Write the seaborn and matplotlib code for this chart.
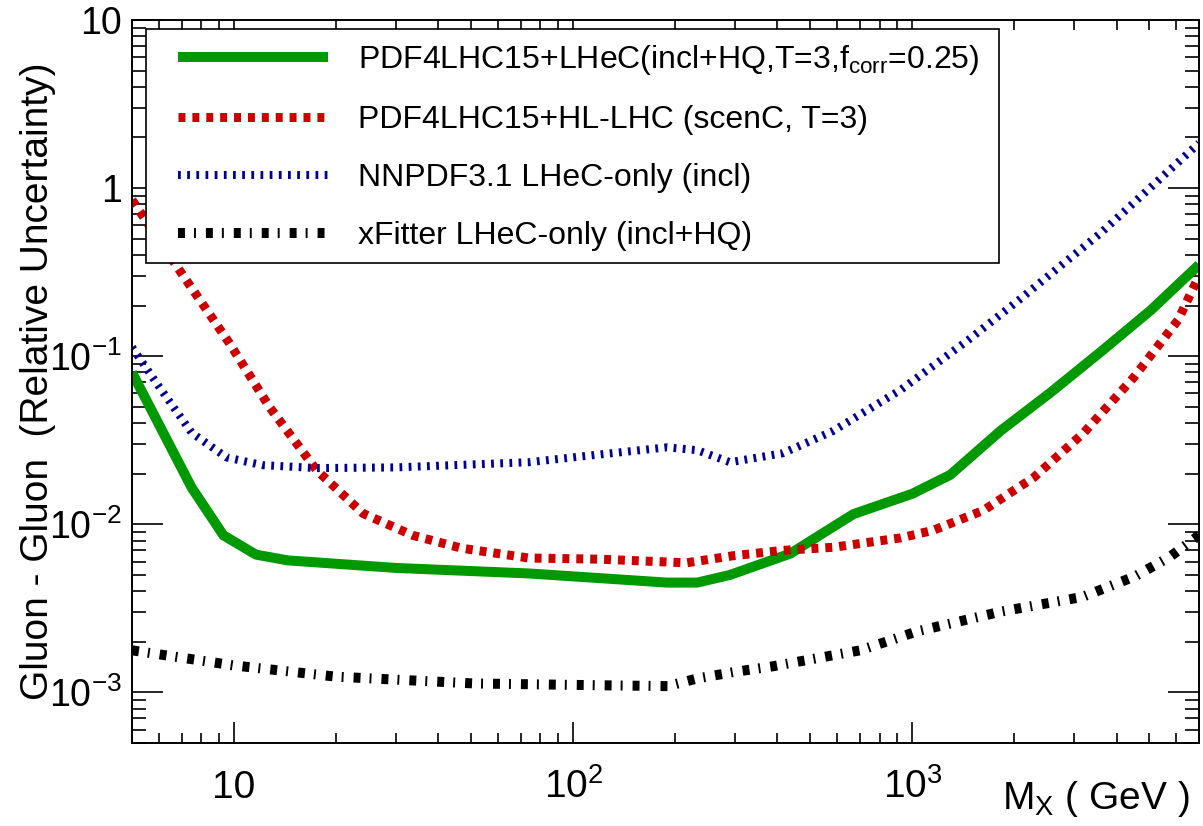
import numpy as np
import matplotlib
matplotlib.use("Agg")
import matplotlib.pyplot as plt
import seaborn as sns
from matplotlib.ticker import LogLocator, FuncFormatter, NullFormatter
from matplotlib.patches import Rectangle

# ---------------- data ----------------
mx_lhec = [5, 7.5, 9.3, 11.6, 14.4, 30, 74, 189, 232, 290, 437, 670, 1000,
           1294, 1820, 2560, 3590, 5050, 7000]
unc_lhec = [0.080, 0.0165, 0.0086, 0.0066, 0.0061, 0.0055, 0.0051, 0.0045,
            0.0045, 0.0050, 0.0067, 0.0115, 0.0152, 0.0197, 0.036, 0.061,
            0.106, 0.188, 0.35]

mx_hllhc = [5, 6.9, 9.7, 12.7, 17.5, 24, 33.6, 47, 74, 120, 216, 296, 416,
            585, 923, 1150, 1620, 2280, 3200, 4500, 6070, 7000]
unc_hllhc = [0.85, 0.325, 0.119, 0.050, 0.021, 0.0116, 0.0086, 0.0072, 0.0063,
             0.0062, 0.0059, 0.0065, 0.0070, 0.0073, 0.0083, 0.0092, 0.0121,
             0.019, 0.035, 0.075, 0.164, 0.30]

mx_nnpdf = [5, 6.1, 7.5, 9.5, 12.1, 17.5, 30, 74, 107, 189, 232, 290, 416,
            585, 923, 1455, 2056, 3590, 7000]
unc_nnpdf = [0.113, 0.063, 0.035, 0.025, 0.0225, 0.0216, 0.0218, 0.0234,
             0.0254, 0.0287, 0.0276, 0.0234, 0.0265, 0.036, 0.063, 0.124,
             0.215, 0.54, 1.85]

mx_xfit = [5, 9.9, 20, 51, 131, 190, 232, 296, 388, 702, 1035, 1833, 3177,
           4530, 5740, 7000]
unc_xfit = [0.00178, 0.00145, 0.00124, 0.00113, 0.00110, 0.00109, 0.00121,
            0.00132, 0.00143, 0.00178, 0.00231, 0.00303, 0.0037, 0.0049,
            0.0064, 0.0086]

labels = [
    r'PDF4LHC15+LHeC(incl+HQ,T=3,f$_{\mathregular{corr}}$=0.25)',
    'PDF4LHC15+HL-LHC (scenC, T=3)',
    'NNPDF3.1 LHeC-only (incl)',
    'xFitter LHeC-only (incl+HQ)',
]
xlabel = r'M$_{\mathregular{X}}$ ( GeV )'
ylabel = 'Gluon - Gluon  (Relative Uncertainty)'

# ---------------- style ----------------
sns.set_theme(style="ticks", rc={
    "axes.edgecolor": "black", "xtick.color": "black", "ytick.color": "black",
    "text.color": "black", "axes.labelcolor": "black",
})
plt.rcParams['font.family'] = ['Liberation Sans', 'DejaVu Sans']
plt.rcParams['mathtext.fontset'] = 'custom'
plt.rcParams['mathtext.rm'] = 'Liberation Sans'
plt.rcParams['mathtext.it'] = 'Liberation Sans:italic'
plt.rcParams['mathtext.bf'] = 'Liberation Sans:bold'
plt.rcParams['lines.scale_dashes'] = False

W, H = 1203, 826
fig = plt.figure(figsize=(W / 100, H / 100), dpi=100)
L, R, T, B = 132, 1199, 20, 743
ax = fig.add_axes([L / W, 1 - B / H, (R - L) / W, (B - T) / H])

sns.lineplot(x=mx_lhec, y=unc_lhec, ax=ax, color='#009900', linewidth=7.2,
             solid_capstyle='butt', estimator=None, sort=False, label=labels[0])
sns.lineplot(x=mx_hllhc, y=unc_hllhc, ax=ax, color='#cc0000', linewidth=6.5,
             linestyle=(0, (5.0, 5.0)), estimator=None, sort=False, label=labels[1])
sns.lineplot(x=mx_nnpdf, y=unc_nnpdf, ax=ax, color='#000099', linewidth=5.8,
             linestyle=(0, (2.0, 4.6)), estimator=None, sort=False, label=labels[2])
sns.lineplot(x=mx_xfit, y=unc_xfit, ax=ax, color='black', linewidth=7.2,
             linestyle=(0, (5.0, 6.5, 1.4, 7.2)), estimator=None, sort=False,
             label=labels[3])

ax.set_xscale('log')
ax.set_yscale('log')
ax.set_xlim(5, 7000)
ax.set_ylim(5e-4, 10)


def fmt(v, pos):
    e = int(round(np.log10(v)))
    if e == 0:
        return '1'
    if e == 1:
        return '10'
    return r'$\mathregular{10^{%d}}$' % e


for a in (ax.xaxis, ax.yaxis):
    a.set_major_locator(LogLocator(base=10, numticks=20))
    a.set_minor_locator(LogLocator(base=10, subs=np.arange(2, 10), numticks=20))
    a.set_major_formatter(FuncFormatter(fmt))
    a.set_minor_formatter(NullFormatter())

for s in ax.spines.values():
    s.set_linewidth(1.4)
    s.set_color('black')

ax.tick_params(which='both', direction='in', top=True, right=True,
               width=1.2, colors='black', labelsize=27)
ax.tick_params(axis='y', which='major', length=22, pad=7)
ax.tick_params(axis='y', which='minor', length=10)
ax.tick_params(axis='x', which='major', length=15, pad=39.6, labelsize=28)
ax.tick_params(axis='x', which='minor', length=7.5)

ax.set_ylabel(ylabel, fontsize=28)
ax.yaxis.set_label_coords(-0.0712, 0.5)
ax.set_xlabel(xlabel, fontsize=28, loc='right')
ax.xaxis.set_label_coords(0.9916, -0.05)

# legend frame + legend
frame = Rectangle(((146 - L) / (R - L), (B - 263) / (B - T)),
                  (999 - 146) / (R - L), (263 - 29) / (B - T),
                  transform=ax.transAxes, facecolor='white', edgecolor='black',
                  linewidth=1.2, zorder=4)
ax.add_artist(frame)
handles, labs = ax.get_legend_handles_labels()
leg = ax.legend(handles, labs, loc='center left',
                bbox_to_anchor=((178 - L) / (R - L), (B - 147) / (B - T)),
                frameon=False, fontsize=23, handlelength=4.7,
                handletextpad=0.95, borderpad=0, borderaxespad=0,
                labelspacing=0.87)
leg.set_zorder(5)

fig.canvas.draw()
for t in ax.xaxis.get_major_ticks():
    t.label1.set_verticalalignment('baseline')

fig.savefig('out.png', dpi=100, facecolor='white')
